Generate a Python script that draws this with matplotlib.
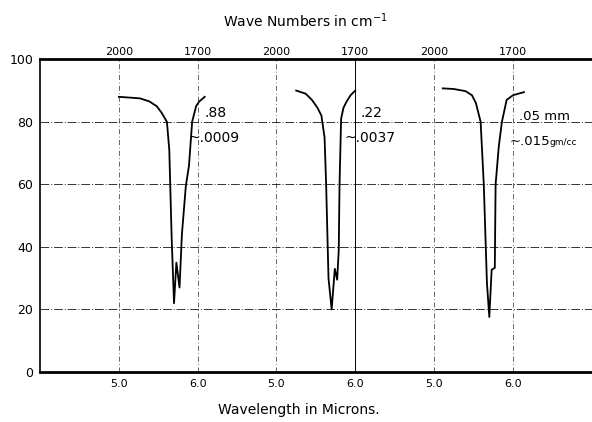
import matplotlib.pyplot as plt

# spectra, wavelength in microns (within each panel) vs % transmission
wl_1 = [5.00, 5.27, 5.39, 5.48, 5.54, 5.61, 5.64, 5.67, 5.70, 5.73, 5.75, 5.77, 5.80, 5.85, 5.89, 5.93, 5.98, 6.02, 6.09]
tr_1 = [88.0, 87.5, 86.5, 85.0, 83.0, 80.0, 71.0, 43.0, 22.0, 35.0, 31.0, 27.0, 44.0, 59.5, 66.0, 80.0, 85.0, 86.5, 88.0]

wl_2 = [5.25, 5.37, 5.45, 5.52, 5.57, 5.61, 5.63, 5.66, 5.70, 5.74, 5.77, 5.79, 5.80, 5.82, 5.85, 5.89, 5.94, 6.00]
tr_2 = [90.0, 89.0, 87.0, 84.5, 82.0, 75.0, 60.0, 30.0, 20.0, 33.0, 29.5, 39.0, 60.0, 81.0, 84.5, 86.5, 88.5, 90.0]

wl_3 = [5.11, 5.25, 5.40, 5.48, 5.53, 5.59, 5.63, 5.67, 5.70, 5.73, 5.77, 5.78, 5.82, 5.86, 5.92, 6.00, 6.14]
tr_3 = [90.7, 90.5, 89.8, 88.5, 86.0, 80.0, 60.0, 28.5, 17.6, 32.7, 33.3, 60.0, 72.0, 80.0, 87.0, 88.5, 89.5]

labels_1 = [".88", "~.0009"]
labels_2 = [".22", "~.0037"]
labels_3 = [".05 mm", "~.015", "gm/cc"]

panel_shift = [0, 2, 4]
bottom_ticks = [5, 6, 7, 8, 9, 10]
bottom_labels = ["5.0", "6.0", "5.0", "6.0", "5.0", "6.0"]
top_labels = ["2000", "1700", "2000", "1700", "2000", "1700"]
y_ticks = [0, 20, 40, 60, 80, 100]

plt.rcParams['font.family'] = ['DejaVu Sans']
fig = plt.figure(figsize=(5.92, 4.22), dpi=100)
ax = fig.add_axes([0.0676, 0.1185, 0.932, 0.741])

# grid
for y in [20, 40, 60, 80]:
    ax.axhline(y, color='black', lw=0.7, ls=(0, (9, 2, 1, 2)), alpha=0.8)
for x in bottom_ticks:
    if x == 8:
        ax.axvline(x, color='black', lw=0.7)
    else:
        ax.axvline(x, color='black', lw=0.6, ls=(0, (6, 3, 1, 3)), alpha=0.7)

for wl, tr, sh in zip([wl_1, wl_2, wl_3], [tr_1, tr_2, tr_3], panel_shift):
    ax.plot([w + sh for w in wl], tr, color='black', lw=1.3)

# annotations
ax.text(6.09, 81.5, labels_1[0], fontsize=10)
ax.text(5.88, 73.5, labels_1[1], fontsize=10)
ax.text(8.07, 81.5, labels_2[0], fontsize=10)
ax.text(7.86, 73.5, labels_2[1], fontsize=10)
ax.text(10.08, 80.5, labels_3[0], fontsize=9.5)
ax.text(9.96, 72.5, labels_3[1], fontsize=9.5)
ax.text(10.46, 72.5, labels_3[2], fontsize=6.5)

ax.set_xlim(4.0, 11.0)
ax.set_ylim(0, 100)
ax.set_xticks(bottom_ticks)
ax.set_xticklabels(bottom_labels, fontsize=8)
ax.set_yticks(y_ticks)
ax.set_yticklabels([str(v) for v in y_ticks], fontsize=9)
ax.tick_params(axis='both', length=0, pad=5)

top = ax.secondary_xaxis('top')
top.set_xticks(bottom_ticks)
top.set_xticklabels(top_labels, fontsize=8)
top.tick_params(length=0, pad=2)
top.spines['top'].set_visible(False)

ax.spines['top'].set_linewidth(2.0)
ax.spines['bottom'].set_linewidth(2.0)
ax.spines['left'].set_linewidth(1.2)
ax.spines['right'].set_visible(False)

fig.text(0.515, 0.952, "Wave Numbers in cm$^{-1}$", ha='center', va='center', fontsize=10)
fig.text(0.505, 0.028, "Wavelength in Microns.", ha='center', va='center', fontsize=10)

fig.savefig('out.png', dpi=100)
